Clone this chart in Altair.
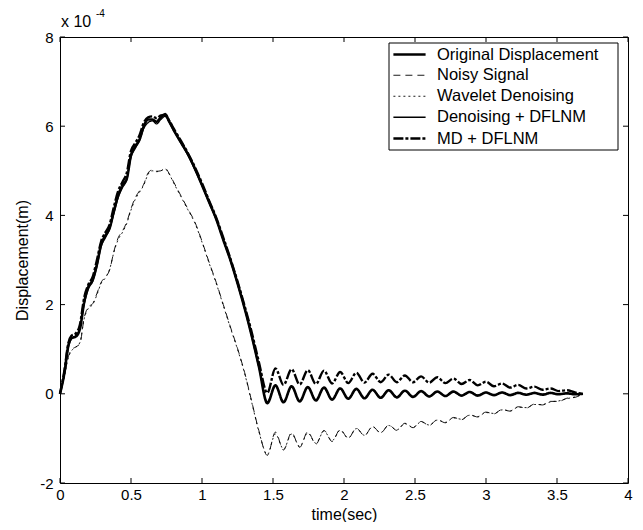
import altair as alt
import pandas as pd

FONT = "Liberation Sans"

TIME = [0.00, 0.03, 0.06, 0.08, 0.11, 0.14, 0.17, 0.20, 0.23, 0.26,
        0.29, 0.32, 0.35, 0.38, 0.41, 0.44, 0.47, 0.50, 0.53, 0.56,
        0.59, 0.62, 0.65, 0.68, 0.71, 0.74, 0.77, 0.80, 0.85, 0.90,
        0.95, 1.00, 1.05, 1.10, 1.15, 1.20, 1.25, 1.30, 1.35, 1.40,
        1.460, 1.517, 1.574, 1.631, 1.688, 1.745, 1.802, 1.859, 1.916, 1.973,
        2.030, 2.087, 2.144, 2.201, 2.258, 2.315, 2.372, 2.429, 2.486, 2.543,
        2.600, 2.657, 2.714, 2.771, 2.828, 2.885, 2.942, 2.999, 3.056, 3.113,
        3.170, 3.227, 3.284, 3.341, 3.398, 3.455, 3.512, 3.569, 3.626, 3.683]

ORIGINAL = [0.00, 0.45, 1.10, 1.25, 1.28, 1.45, 2.05, 2.40, 2.55, 2.90,
            3.35, 3.55, 3.72, 4.10, 4.45, 4.68, 4.82, 5.35, 5.55, 5.70,
            6.00, 6.15, 6.15, 6.10, 6.20, 6.27, 6.10, 5.92, 5.65, 5.38,
            5.05, 4.68, 4.30, 3.92, 3.45, 3.00, 2.48, 1.92, 1.30, 0.62,
            -0.21, 0.19, -0.19, 0.17, -0.17, 0.15, -0.15, 0.14, -0.13, 0.12,
            -0.11, 0.11, -0.10, 0.09, -0.09, 0.08, -0.08, 0.07, -0.07, 0.06,
            -0.06, 0.05, -0.05, 0.05, -0.04, 0.04, -0.04, 0.03, -0.03, 0.03,
            -0.03, 0.02, -0.02, 0.02, -0.02, 0.02, -0.01, 0.01, -0.01, 0.00]

NOISY = [0.00, 0.40, 0.85, 0.98, 1.05, 1.12, 1.70, 1.95, 2.02, 2.25,
         2.50, 2.62, 2.78, 3.20, 3.50, 3.65, 3.85, 4.15, 4.40, 4.55,
         4.70, 4.95, 5.02, 4.99, 5.00, 5.06, 4.93, 4.75, 4.45, 4.15,
         3.85, 3.42, 2.95, 2.50, 2.00, 1.50, 1.02, 0.48, -0.17, -0.82,
         -1.38, -0.86, -1.26, -0.87, -1.20, -0.85, -1.13, -0.82, -1.07, -0.80,
         -1.00, -0.77, -0.94, -0.73, -0.88, -0.70, -0.82, -0.66, -0.76, -0.62,
         -0.71, -0.58, -0.65, -0.53, -0.58, -0.47, -0.52, -0.41, -0.45, -0.35,
         -0.39, -0.29, -0.32, -0.23, -0.25, -0.17, -0.17, -0.10, -0.08, 0.00]

WAVELET = [0.00, 0.38, 0.82, 0.96, 1.04, 1.15, 1.68, 1.92, 2.00, 2.22,
           2.48, 2.60, 2.80, 3.18, 3.46, 3.62, 3.82, 4.12, 4.36, 4.52,
           4.68, 4.92, 5.00, 4.98, 5.00, 5.04, 4.92, 4.73, 4.43, 4.13,
           3.83, 3.40, 2.93, 2.48, 1.98, 1.48, 1.00, 0.46, -0.19, -0.84,
           -1.36, -0.90, -1.24, -0.90, -1.18, -0.88, -1.11, -0.84, -1.05, -0.82,
           -0.99, -0.78, -0.93, -0.74, -0.87, -0.71, -0.81, -0.67, -0.75, -0.63,
           -0.70, -0.59, -0.64, -0.54, -0.57, -0.48, -0.51, -0.42, -0.44, -0.36,
           -0.38, -0.30, -0.31, -0.24, -0.24, -0.18, -0.16, -0.11, -0.07, 0.00]

DENOISE_DFLNM = [0.00, 0.42, 1.05, 1.22, 1.30, 1.48, 2.00, 2.35, 2.52, 2.85,
                 3.30, 3.50, 3.70, 4.05, 4.40, 4.62, 4.80, 5.30, 5.50, 5.68,
                 5.95, 6.08, 6.12, 6.05, 6.15, 6.22, 6.08, 5.90, 5.62, 5.35,
                 5.02, 4.66, 4.28, 3.90, 3.44, 2.98, 2.46, 1.90, 1.28, 0.60,
                 -0.18, 0.18, -0.18, 0.16, -0.16, 0.15, -0.14, 0.13, -0.13, 0.12,
                 -0.11, 0.10, -0.10, 0.09, -0.08, 0.08, -0.07, 0.07, -0.06, 0.06,
                 -0.06, 0.05, -0.05, 0.04, -0.04, 0.04, -0.03, 0.03, -0.03, 0.03,
                 -0.02, 0.02, -0.02, 0.02, -0.01, 0.01, -0.01, 0.01, -0.01, 0.00]

MD_DFLNM = [0.00, 0.50, 1.15, 1.30, 1.35, 1.55, 2.15, 2.45, 2.62, 3.00,
            3.42, 3.62, 3.80, 4.20, 4.55, 4.75, 4.95, 5.45, 5.62, 5.80,
            6.08, 6.20, 6.22, 6.18, 6.24, 6.25, 6.12, 5.95, 5.68, 5.40,
            5.08, 4.72, 4.33, 3.95, 3.50, 3.03, 2.52, 1.97, 1.38, 0.72,
            0.02, 0.57, 0.20, 0.55, 0.21, 0.53, 0.22, 0.52, 0.23, 0.49,
            0.24, 0.47, 0.25, 0.45, 0.26, 0.43, 0.26, 0.41, 0.26, 0.39,
            0.25, 0.37, 0.24, 0.34, 0.22, 0.31, 0.19, 0.27, 0.17, 0.23,
            0.14, 0.20, 0.12, 0.16, 0.09, 0.12, 0.06, 0.08, 0.03, 0.00]

SERIES = ["Original Displacement", "Noisy Signal", "Wavelet Denoising",
          "Denoising + DFLNM", "MD + DFLNM"]
VALUES = [ORIGINAL, NOISY, WAVELET, DENOISE_DFLNM, MD_DFLNM]
DASHES = [[1, 0], [7, 5], [2, 3], [1, 0], [10, 2, 3, 2]]
WIDTHS = [2.6, 0.9, 0.9, 1.3, 2.4]

X_TICKS = [0, 0.5, 1, 1.5, 2, 2.5, 3, 3.5, 4]
Y_TICKS = [-2, 0, 2, 4, 6, 8]

for vals in VALUES:
    assert len(vals) == len(TIME)

rows = []
for name, vals in zip(SERIES, VALUES):
    for i, (t, v) in enumerate(zip(TIME, vals)):
        rows.append({"t": t, "v": v, "series": name, "idx": i})
df = pd.DataFrame(rows)

W, H = 568, 446
xs = alt.Scale(domain=[0, 4], nice=False, zero=False)
ys = alt.Scale(domain=[-2, 8], nice=False, zero=False)

leg = dict(title=None, orient="none", legendX=335, legendY=9,
           symbolType="M-2.3,0H2.3", symbolSize=196, symbolOffset=6,
           symbolStrokeColor="black", symbolFillColor="transparent",
           labelFont=FONT, labelFontSize=16.5, labelColor="black",
           labelOffset=19, labelLimit=400, rowPadding=4, padding=0,
           direction="vertical")

lines = alt.Chart(df).mark_line(interpolate="monotone", color="black").encode(
    x=alt.X("t:Q", scale=xs, axis=alt.Axis(
        values=X_TICKS, title="time(sec)", labelExpr="'' + datum.value",
        labelPadding=4, titleY=23, titleX=W / 2, titleBaseline="top")),
    y=alt.Y("v:Q", scale=ys, axis=alt.Axis(
        values=Y_TICKS, title="Displacement(m)", labelExpr="'' + datum.value",
        labelPadding=7, titleX=-38, titleY=H / 2, titleBaseline="middle",
        titleAngle=-90, titleAlign="center")),
    strokeDash=alt.StrokeDash("series:N", sort=SERIES,
                              scale=alt.Scale(domain=SERIES, range=DASHES),
                              legend=alt.Legend(**leg)),
    strokeWidth=alt.StrokeWidth("series:N", sort=SERIES,
                                scale=alt.Scale(type="ordinal", domain=SERIES, range=WIDTHS),
                                legend=alt.Legend(**leg)),
    order=alt.Order("idx:Q"),
)

xt = pd.DataFrame({"t": X_TICKS})
yt = pd.DataFrame({"v": Y_TICKS})
bottom_ticks = alt.Chart(xt).mark_rule(color="black", strokeWidth=1).encode(
    x=alt.X("t:Q", scale=xs), y=alt.value(H), y2=alt.value(H - 5))
top_ticks = alt.Chart(xt).mark_rule(color="black", strokeWidth=1).encode(
    x=alt.X("t:Q", scale=xs), y=alt.value(0), y2=alt.value(5))
left_ticks = alt.Chart(yt).mark_rule(color="black", strokeWidth=1).encode(
    y=alt.Y("v:Q", scale=ys), x=alt.value(0), x2=alt.value(5))
right_ticks = alt.Chart(yt).mark_rule(color="black", strokeWidth=1).encode(
    y=alt.Y("v:Q", scale=ys), x=alt.value(W), x2=alt.value(W - 5))

legend_box = alt.Chart(pd.DataFrame({"a": [0]})).mark_rect(
    fill="white", stroke="black", strokeWidth=1).encode(
    x=alt.value(329), x2=alt.value(558), y=alt.value(6), y2=alt.value(113))

exp_base = alt.Chart(pd.DataFrame({"s": ["x 10"]})).mark_text(
    align="left", baseline="alphabetic", font=FONT, fontSize=16, color="black"
).encode(text="s:N", x=alt.value(1), y=alt.value(-10))
exp_pow = alt.Chart(pd.DataFrame({"s": ["-4"]})).mark_text(
    align="left", baseline="alphabetic", font=FONT, fontSize=10, color="black"
).encode(text="s:N", x=alt.value(36), y=alt.value(-20))

chart = alt.layer(
    legend_box, lines, bottom_ticks, top_ticks, left_ticks, right_ticks,
    exp_base, exp_pow
).properties(
    width=W, height=H,
    autosize=alt.AutoSizeParams(type="none"),
    padding={"left": 52, "top": 29, "right": 7, "bottom": 39},
    background="white",
).configure_view(
    stroke="black", strokeWidth=1
).configure_axis(
    domain=False, ticks=False, tickSize=0, grid=False,
    labelFont=FONT, labelFontSize=15, labelColor="black",
    titleFont=FONT, titleFontSize=16, titleFontWeight="normal", titleColor="black",
    labelFlush=False, labelOverlap=False, labelBound=False,
)

chart.save("out.html", embed_options={"renderer": "svg", "actions": False})
